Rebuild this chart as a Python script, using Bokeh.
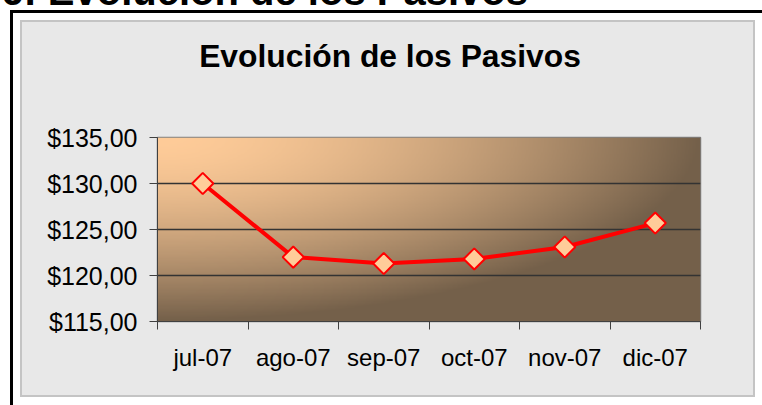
import numpy as np
from bokeh.plotting import figure
from bokeh.layouts import column
from bokeh.models import FixedTicker, Range1d, Div
from bokeh.embed import file_html
from bokeh.resources import INLINE

# ---- data ----
months = ["jul-07", "ago-07", "sep-07", "oct-07", "nov-07", "dic-07"]
pasivos = [130.0, 122.0, 121.3, 121.8, 123.1, 125.7]
y_ticks = [115, 120, 125, 130, 135]
y_tick_labels = ["$115,00", "$120,00", "$125,00", "$130,00", "$135,00"]
chart_title = "Evolución de los Pasivos"
page_heading = "Gráfico 6: Evolución de los Pasivos"

W, H = 762, 405
FONT = "Liberation Sans"
# frame position on the canvas (pixels)
FL, FR, FT, FB = 157, 700, 137, 321

# ---------------- background sheet (page frame, marble sheet, titles) ----------------
sheet_html = (
    f'<div style="position:relative;width:{W}px;height:{H}px;overflow:hidden;background:white;">'
    f'<div style="position:absolute;left:20px;top:20px;width:735px;height:377px;'
    f'background:#E8E8E8;border:2px solid #C4C4C4;"></div>'
    f'<div style="position:absolute;left:10px;top:10px;width:2.5px;height:{H}px;background:black;"></div>'
    f'<div style="position:absolute;left:10px;top:10px;width:{W}px;height:2.5px;background:black;"></div>'
    f'<div style="position:absolute;right:234px;top:-29.5px;white-space:nowrap;'
    f"font-family:'{FONT}';font-weight:bold;font-size:40px;line-height:40px;color:black;\">{page_heading}</div>"
    f'<div style="position:absolute;left:90px;width:600px;top:40.75px;text-align:center;white-space:nowrap;'
    f"font-family:'{FONT}';font-weight:bold;font-size:31.8px;line-height:31px;color:black;\">{chart_title}</div>"
    f'</div>'
)
sheet = Div(text=sheet_html, width=W, height=H, margin=0)

# ---------------- chart ----------------
x_idx = list(range(len(months)))
X0, X1 = -0.5, len(months) - 0.5
Y0, Y1 = y_ticks[0], y_ticks[-1]

p = figure(width=W, height=H, output_backend="svg", toolbar_location=None,
           x_range=Range1d(X0, X1), y_range=Range1d(Y0, Y1),
           min_border_left=FL, min_border_right=W - FR,
           min_border_top=FT, min_border_bottom=H - FB)
p.margin = 0
p.styles = {"margin-top": f"-{H}px"}
p.border_fill_alpha = 0
p.background_fill_color = "#B08860"
p.outline_line_color = "#808080"
p.outline_line_width = 1.5

# gradient fill of the plot area (light top-left corner to dark brown)
ny, nx = 150, 400
u = np.linspace(0, 1, nx)[None, :]
v = np.linspace(1, 0, ny)[:, None]
t = np.clip(np.sqrt(u ** 2 + v ** 2), 0, 1) ** 1.6
light = np.array([255, 204, 153], dtype=float)
dark = np.array([116, 96, 74], dtype=float)
img = np.empty((ny, nx), dtype=np.uint32)
view = img.view(dtype=np.uint8).reshape((ny, nx, 4))
for k in range(3):
    view[:, :, k] = (light[k] + (dark[k] - light[k]) * t).astype(np.uint8)
view[:, :, 3] = 255
p.image_rgba(image=[img], x=X0, y=Y0, dw=X1 - X0, dh=Y1 - Y0, level="image")

# grid
p.xgrid.visible = False
p.ygrid.ticker = FixedTicker(ticks=y_ticks)
p.ygrid.grid_line_color = "#333333"
p.ygrid.grid_line_width = 1.5

# series
p.line(x_idx, pasivos, line_color="#FF0000", line_width=4)
p.scatter(x_idx, pasivos, marker="square", angle=np.pi / 4, size=15,
          fill_color="#FFCC99", line_color="#FF0000", line_width=2)

# axes
ya = p.yaxis[0]
ya.ticker = FixedTicker(ticks=y_ticks)
ya.major_label_overrides = {t_: l_ for t_, l_ in zip(y_ticks, y_tick_labels)}
ya.major_tick_out = 8
ya.major_tick_in = 0
ya.minor_tick_out = 0
ya.minor_tick_in = 0
ya.axis_line_color = "#404040"
ya.major_tick_line_color = "#404040"
ya.major_label_standoff = 12
ya.major_label_text_font = FONT
ya.major_label_text_font_size = "25px"
ya.major_label_text_color = "black"

xa = p.xaxis[0]
xa.ticker = FixedTicker(ticks=x_idx, minor_ticks=[i - 0.5 for i in range(len(months) + 1)])
xa.major_label_overrides = {i: m for i, m in zip(x_idx, months)}
xa.major_tick_out = 0
xa.major_tick_in = 0
xa.minor_tick_out = 8
xa.minor_tick_in = 0
xa.minor_tick_line_color = "#404040"
xa.axis_line_color = "#404040"
xa.major_label_standoff = 14
xa.major_label_text_font = FONT
xa.major_label_text_font_size = "24px"
xa.major_label_text_color = "black"

layout = column(sheet, p, spacing=0)
open("out.html", "w").write(file_html(layout, INLINE))
